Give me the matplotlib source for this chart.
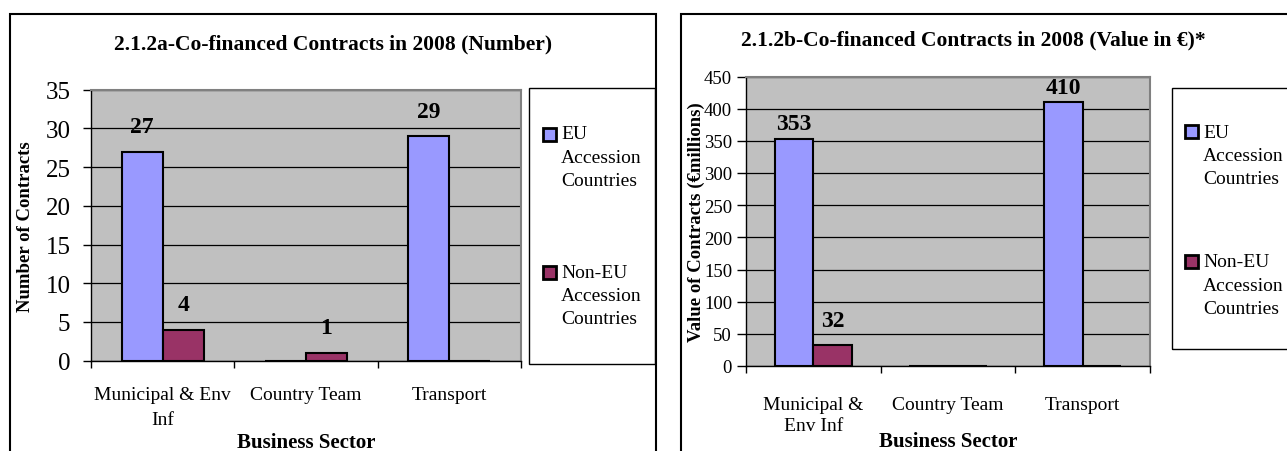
import matplotlib
matplotlib.use("Agg")
import matplotlib.pyplot as plt
from matplotlib.patches import Rectangle
import numpy as np

# ---------------- data ----------------
sectors_a = ["Municipal & Env\nInf", "Country Team", "Transport"]
sectors_b = ["Municipal &\nEnv Inf", "Country Team", "Transport"]
series_names = ["EU\nAccession\nCountries", "Non-EU\nAccession\nCountries"]
number_eu = [27, 0, 29]
number_noneu = [4, 1, 0]
value_eu = [353, 0, 410]
value_noneu = [32, 0, 0]
title_a = "2.1.2a-Co-financed Contracts in 2008 (Number)"
title_b = "2.1.2b-Co-financed Contracts in 2008 (Value in €)*"
ylabel_a = "Number of Contracts"
ylabel_b = "Value of Contracts (€millions)"
xlabel = "Business Sector"

# ---------------- style ----------------
plt.rcParams['font.family'] = ['Liberation Serif', 'DejaVu Serif']
W, H = 1287, 452
EU_COLOR = "#9999FF"
NONEU_COLOR = "#993366"
BG = "#C0C0C0"

fig = plt.figure(figsize=(W / 100, H / 100), dpi=100)


def fx(x):
    return x / W


def fy(y):
    return 1 - y / H


def frame(x0, y0, x1, y1, lw=1.2, color="black"):
    r = Rectangle((fx(x0), fy(y1)), fx(x1) - fx(x0), fy(y0) - fy(y1),
                  transform=fig.transFigure, fill=False, lw=lw,
                  edgecolor=color, clip_on=False)
    fig.add_artist(r)


def make_chart(box, cats, eu, noneu, ymax, ystep, ytick_fs, tick_len, tick_pad,
               cat_pad, cat_ls, label_offsets, title, title_xy, ylabel, ylabel_xy,
               xlabel_base):
    x0, y0, x1, y1 = box
    ax = fig.add_axes([fx(x0), fy(y1), fx(x1) - fx(x0), fy(y0) - fy(y1)])
    ax.set_facecolor(BG)
    x = np.arange(len(cats))
    w = 0.286
    series = [eu, noneu]
    colors = [EU_COLOR, NONEU_COLOR]
    k = 0
    for i, (vals, col) in enumerate(zip(series, colors)):
        xs = x + (i - 0.5) * w
        ax.bar(xs, vals, width=w, color=col, edgecolor="black", linewidth=1.5,
               zorder=3)
        for xi, v in zip(xs, vals):
            if v:
                ax.annotate(f"{v}", xy=(xi, v), xytext=(0, label_offsets[k]),
                            textcoords="offset points", ha="center", va="center",
                            fontsize=17, fontweight="bold", zorder=5)
                k += 1
    ax.set_xlim(-0.5, len(cats) - 0.5)
    ax.set_ylim(0, ymax)
    ax.set_yticks(np.arange(0, ymax + 1, ystep))
    ax.tick_params(axis="y", labelsize=ytick_fs, length=tick_len, pad=tick_pad,
                   width=1, direction="out")
    ax.set_xticks(np.arange(-0.5, len(cats), 1.0))
    ax.set_xticklabels([])
    ax.tick_params(axis="x", which="major", length=5, width=1, direction="out")
    ax.set_xticks(x, cats, minor=True)
    ax.tick_params(axis="x", which="minor", length=0, pad=cat_pad, labelsize=14)
    for lbl in ax.get_xticklabels(minor=True):
        lbl.set_linespacing(cat_ls)
    ax.yaxis.grid(True, color="black", linewidth=0.9)
    ax.set_axisbelow(True)
    for s in ["left", "bottom"]:
        ax.spines[s].set_color("black")
        ax.spines[s].set_linewidth(1.0)
    for s in ["top", "right"]:
        ax.spines[s].set_color("#808080")
        ax.spines[s].set_linewidth(1.5)
    ax.set_ylabel(ylabel, fontsize=13.5, fontweight="bold", va="center", ha="center")
    ax.yaxis.set_label_coords(fx(ylabel_xy[0]), fy(ylabel_xy[1]),
                              transform=fig.transFigure)
    ax.set_xlabel(xlabel, fontsize=15, fontweight="bold", va="baseline")
    ax.xaxis.set_label_coords(fx((x0 + x1) / 2), fy(xlabel_base),
                              transform=fig.transFigure)
    fig.text(fx(title_xy[0]), fy(title_xy[1]), title, fontsize=15.5,
             fontweight="bold", ha="center", va="center")
    return ax


def legend(box, sq_x, sq_ys, text_x, line_y0s, step):
    frame(*box, lw=1.0)
    for name, col, sy, ly in zip(series_names, [EU_COLOR, NONEU_COLOR], sq_ys, line_y0s):
        r = Rectangle((fx(sq_x), fy(sy + 13)), fx(13), 13 / H,
                      transform=fig.transFigure, facecolor=col,
                      edgecolor="black", lw=2, clip_on=False)
        fig.add_artist(r)
        for j, line in enumerate(name.split("\n")):
            fig.text(fx(text_x), fy(ly + j * step), line, fontsize=14,
                     ha="left", va="center")


# outer frames
frame(10, 15, 656, 470, lw=1.5)
frame(681, 15, 1300, 470, lw=1.5)

make_chart((91, 90.7, 521, 361.7), sectors_a, number_eu, number_noneu,
           35, 5, 18, 5.8, 9, 18, 1.62, [18, 18, 18, 18],
           title_a, (333, 44), ylabel_a, (26, 227), 448.5)
make_chart((746, 77.5, 1150, 367), sectors_b, value_eu, value_noneu,
           450, 50, 13.5, 6.5, 3.5, 21.5, 1.32, [10.8, 10.8, 18],
           title_b, (973, 40), ylabel_b, (696, 222), 447)

legend((528.6, 89, 655, 365), 543, [129, 267], 561, [135, 273], 23.5)
legend((1172, 89, 1300, 350), 1185, [126, 256], 1203, [133, 263], 23.5)

fig.savefig("out.png", dpi=100)
